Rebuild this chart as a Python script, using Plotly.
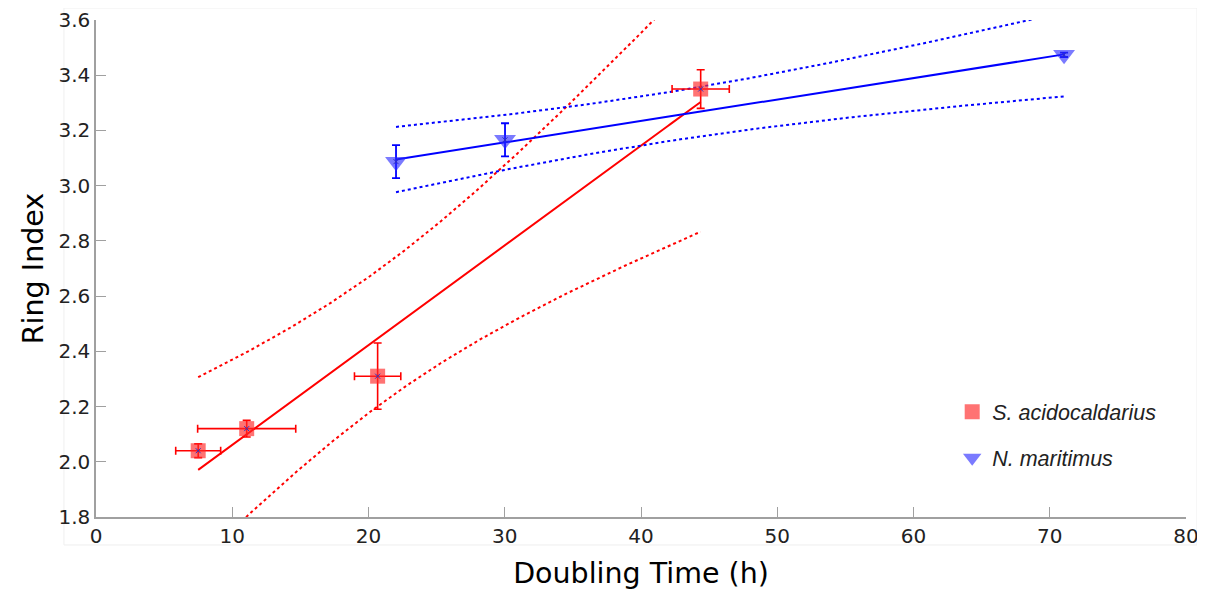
import numpy as np
import plotly.graph_objects as go

# S. acidocaldarius
sa_x = [7.5, 11.06, 20.67, 44.38]
sa_y = [2.04, 2.12, 2.31, 3.35]
sa_xerr = [1.65, 3.6, 1.7, 2.1]
sa_yerr = [0.025, 0.03, 0.12, 0.07]

# N. maritimus
nm_x = [22.02, 30.02, 71.05]
nm_y = [3.087, 3.166, 3.474]
nm_yerr = [0.06, 0.06, 0.008]

x_ticks = [0, 10, 20, 30, 40, 50, 60, 70, 80]
y_ticks = [1.8, 2.0, 2.2, 2.4, 2.6, 2.8, 3.0, 3.2, 3.4, 3.6]

T95 = {1: 12.706, 2: 4.303, 3: 3.182}


def fit_band(x, y):
    x = np.asarray(x, float)
    y = np.asarray(y, float)
    n = len(x)
    b, a = np.polyfit(x, y, 1)
    res = y - (a + b * x)
    s = np.sqrt(np.sum(res ** 2) / (n - 2))
    xb = x.mean()
    sxx = np.sum((x - xb) ** 2)
    xs = np.linspace(x.min(), x.max(), 200)
    yf = a + b * xs
    half = T95[n - 2] * s * np.sqrt(1.0 / n + (xs - xb) ** 2 / sxx)
    return xs, yf, yf - half, yf + half


fig = go.Figure()

for xs_, ys_, col in [(sa_x, sa_y, "red"), (nm_x, nm_y, "blue")]:
    xs, yf, lo, hi = fit_band(xs_, ys_)
    fig.add_trace(go.Scatter(x=xs, y=yf, mode="lines", line=dict(color=col, width=2),
                             showlegend=False, hoverinfo="skip"))
    for band in (lo, hi):
        fig.add_trace(go.Scatter(x=xs, y=band, mode="lines",
                                 line=dict(color=col, width=2, dash="dot"),
                                 showlegend=False, hoverinfo="skip"))

fig.add_trace(go.Scatter(
    x=sa_x, y=sa_y, mode="markers", name="<i>S. acidocaldarius</i>",
    legendgroup="a",
    marker=dict(symbol="square", size=15, color="rgba(255,40,40,0.65)", line=dict(width=0)),
    error_x=dict(type="data", array=sa_xerr, color="red", thickness=1.6, width=4),
    error_y=dict(type="data", array=sa_yerr, color="red", thickness=1.6, width=4),
))
fig.add_trace(go.Scatter(
    x=nm_x, y=nm_y, mode="markers", name="<i>N. maritimus</i>",
    legendgroup="b",
    marker=dict(symbol="triangle-down", size=19, color="rgba(40,40,255,0.62)", line=dict(width=0)),
    error_y=dict(type="data", array=nm_yerr, color="blue", thickness=1.8, width=4),
))
# small centre crosses
fig.add_trace(go.Scatter(
    x=sa_x + nm_x, y=sa_y + nm_y, mode="markers", showlegend=False, hoverinfo="skip",
    marker=dict(symbol="x-thin", size=5, line=dict(color="#3030c0", width=1)),
))

fig.add_shape(type="rect", xref="paper", yref="paper",
              x0=-0.0294, x1=1.0101, y0=-0.0563, y1=1.0241,
              line=dict(color="#EFEFEF", width=1), layer="below")

axis_common = dict(
    showgrid=False, zeroline=False, showline=True, linecolor="#A0A0A0", linewidth=1.5,
    ticks="inside", ticklen=10, tickcolor="#A0A0A0", tickwidth=1.2, automargin=False,
    tickfont=dict(family="DejaVu Sans", size=20, color="#222222"),
)

fig.update_layout(
    width=1197, height=582,
    margin=dict(l=88, r=19, t=12, b=73),
    paper_bgcolor="white", plot_bgcolor="white",
    xaxis=dict(range=[0, 80], tickvals=x_ticks, ticktext=[str(v) for v in x_ticks],
               title=dict(text="Doubling Time (h)", font=dict(family="DejaVu Sans", size=28.5, color="black"),
                          standoff=18),
               **axis_common),
    yaxis=dict(range=[1.8, 3.6], tickvals=y_ticks, ticktext=[f"{v:.1f}" for v in y_ticks],
               title=dict(text="Ring Index", font=dict(family="DejaVu Sans", size=28.5, color="black"),
                          standoff=6),
               **axis_common),
    legend=dict(x=0.7855, y=0.253, xanchor="left", yanchor="top", bgcolor="rgba(0,0,0,0)",
                font=dict(family="Liberation Sans", size=21.5, color="#222222"),
                tracegroupgap=15),
    showlegend=True,
)

fig.write_html("out.html")
